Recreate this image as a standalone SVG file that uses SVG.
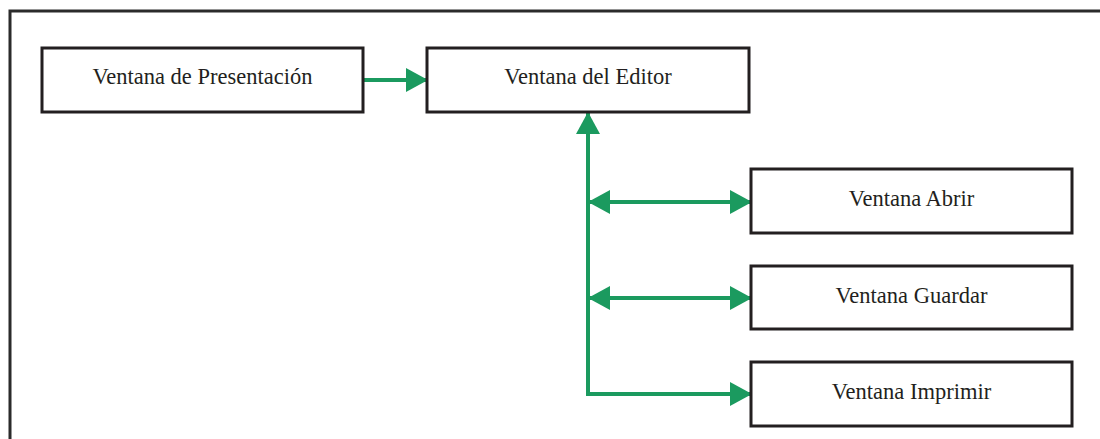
<svg xmlns="http://www.w3.org/2000/svg" width="1100" height="439" viewBox="0 0 1100 439">
  <style>
    .box { fill: #ffffff; stroke: #231f20; stroke-width: 3; }
    .frame { fill: none; stroke: #2b2b2b; stroke-width: 3; }
    .label { font-family: "Liberation Serif", "Times New Roman", serif; font-size: 22.5px; fill: #231f20; text-anchor: middle; }
    .link { fill: none; stroke: #1b9a5f; stroke-width: 4; }
  </style>
  <defs>
    <marker id="head" markerUnits="userSpaceOnUse" markerWidth="22" markerHeight="24" viewBox="0 0 22 24" refX="21" refY="12" orient="auto-start-reverse">
      <path d="M0,0 L22,12 L0,24 Z" fill="#1b9a5f"/>
    </marker>
  </defs>
  <rect width="1100" height="439" fill="#ffffff"/>
  <!-- outer frame, open at the right and bottom -->
  <rect class="frame" x="10" y="11" width="1110" height="450"/>

  <g id="connectors">
    <line class="link" x1="363" y1="80" x2="427" y2="80" marker-end="url(#head)"/>
    <polyline class="link" points="751,394 588,394 588,113" marker-start="url(#head)" marker-end="url(#head)"/>
    <line class="link" x1="589" y1="202" x2="751" y2="202" marker-start="url(#head)" marker-end="url(#head)"/>
    <line class="link" x1="589" y1="298" x2="751" y2="298" marker-start="url(#head)" marker-end="url(#head)"/>
  </g>

  <g id="presentacion">
    <rect class="box" x="42" y="48" width="321" height="64"/>
    <text class="label" x="202.5" y="84">Ventana de Presentación</text>
  </g>
  <g id="editor">
    <rect class="box" x="427" y="48" width="322" height="64"/>
    <text class="label" x="588" y="84">Ventana del Editor</text>
  </g>
  <g id="abrir">
    <rect class="box" x="751" y="169" width="321" height="64"/>
    <text class="label" x="911.5" y="206">Ventana Abrir</text>
  </g>
  <g id="guardar">
    <rect class="box" x="751" y="266" width="321" height="63"/>
    <text class="label" x="911.5" y="303">Ventana Guardar</text>
  </g>
  <g id="imprimir">
    <rect class="box" x="751" y="362" width="321" height="64"/>
    <text class="label" x="911.5" y="399">Ventana Imprimir</text>
  </g>
</svg>
